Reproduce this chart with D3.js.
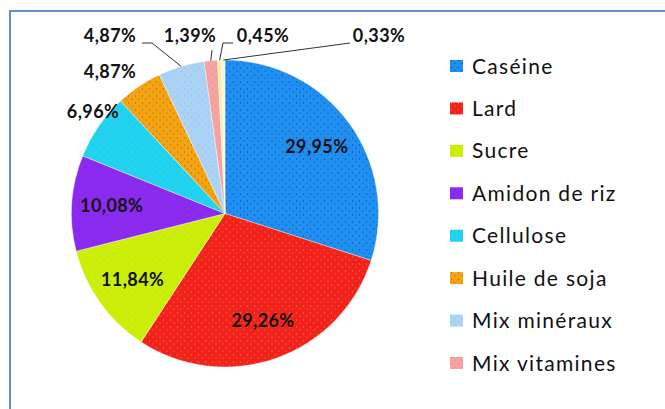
<!DOCTYPE html>
<html>
<head>
<meta charset="utf-8">
<script src="https://cdn.jsdelivr.net/npm/d3@7"></script>
<style>
  body { margin: 0; background: #fff; }
  svg { display: block; }
</style>
</head>
<body>
<svg id="chart" width="665" height="409"></svg>
<script>
// data
var categories = ["Caséine", "Lard", "Sucre", "Amidon de riz", "Cellulose", "Huile de soja", "Mix minéraux", "Mix vitamines", null, null];
var values = [29.95, 29.26, 11.84, 10.08, 6.96, 4.87, 4.87, 1.39, 0.45, 0.33];
var valueLabels = ["29,95%", "29,26%", "11,84%", "10,08%", "6,96%", "4,87%", "4,87%", "1,39%", "0,45%", "0,33%"];

var colors = ["#1f8ff0", "#f0221b", "#ccef0a", "#8b2bef", "#22d3f0", "#f4a312", "#a8d4f6", "#f6a3a2", "#f8f0a6", "#f3f3e6"];
var dotColors = ["#0a2a9a", "#ff9a40", "#b8dc00", "#7a20d8", "#14b8d8", "#8a4a10", "#e08ac8", "#e07a90", "#e8dc80", "#ddd"];

var svg = d3.select("#chart");
var cx = 225, cy = 213.5, radius = 153.5;

// frame (only top and left edges are visible)
svg.append("rect")
	.attr("x", 10).attr("y", 11)
	.attr("width", 700).attr("height", 500)
	.attr("fill", "none")
	.attr("stroke", "#5b93d3")
	.attr("stroke-width", 2);

// dotted textures like the old office fills
var defs = svg.append("defs");
colors.forEach(function(c, i){
	var p = defs.append("pattern")
		.attr("id", "tex" + i)
		.attr("width", 7).attr("height", 7)
		.attr("patternUnits", "userSpaceOnUse");
	p.append("rect").attr("width", 7).attr("height", 7).attr("fill", c);
	p.append("circle").attr("cx", 1.5).attr("cy", 1.5).attr("r", 0.6).attr("fill", dotColors[i]);
	p.append("circle").attr("cx", 5).attr("cy", 4.5).attr("r", 0.5).attr("fill", dotColors[i]);
});

var pie = d3.pie().sort(null).value(function(d){ return d; });
var arcs = pie(values);
var arc = d3.arc().innerRadius(0).outerRadius(radius);

var g = svg.append("g").attr("transform", "translate(" + cx + "," + cy + ")");

g.selectAll("path.slice")
	.data(arcs)
	.enter().append("path")
		.attr("class", "slice")
		.attr("d", arc)
		.attr("fill", function(d, i){ return "url(#tex" + i + ")"; })
		.attr("stroke", "#fff")
		.attr("stroke-width", 0.4);

// label layout: inside ones sit on a ring, the rest are placed around the pie
var insideR = 0.74;
var labelLayout = [
	{inside: true},
	{inside: true},
	{inside: true},
	{inside: true},
	{x: -132, y: -101.5},
	{x: -115, y: -141.5},
	{x: -115, y: -177.5, lead: [[-73, -170.5], [-83, -170.5]]},
	{x: -35, y: -177.5, lead: [[-13, -163.5]]},
	{x: 38, y: -177.5, lead: [[-2, -170.5], [8, -170.5]]},
	{x: 154, y: -177.5, lead: [[125, -170.5]]}
];

var edgeArc = d3.arc().innerRadius(radius).outerRadius(radius);
var ringArc = d3.arc().innerRadius(radius * insideR).outerRadius(radius * insideR);

// leader lines
g.selectAll("path.lead")
	.data(arcs.filter(function(d, i){ return labelLayout[i].lead; }))
	.enter().append("path")
		.attr("class", "lead")
		.attr("d", function(d){
			var pts = [edgeArc.centroid(d)].concat(labelLayout[d.index].lead);
			return d3.line()(pts);
		})
		.attr("fill", "none")
		.attr("stroke", "#333")
		.attr("stroke-width", 1);

g.selectAll("text.val")
	.data(arcs)
	.enter().append("text")
		.attr("class", "val")
		.attr("transform", function(d, i){
			var L = labelLayout[i];
			var p = L.inside ? ringArc.centroid(d) : [L.x, L.y];
			return "translate(" + p[0] + "," + p[1] + ")";
		})
		.attr("text-anchor", "middle")
		.attr("dy", "0.36em")
		.attr("font-family", "Lato, 'Open Sans', sans-serif")
		.attr("font-weight", "bold")
		.attr("font-size", "18px")
		.attr("letter-spacing", "0.4px")
		.attr("fill", "#111")
		.text(function(d, i){ return valueLabels[i]; });

// legend
var legendItems = categories.map(function(c, i){ return {name: c, i: i}; })
	.filter(function(d){ return d.name; });
var legY = d3.scalePoint()
	.domain(legendItems.map(function(d){ return d.name; }))
	.range([66, 363]);

var leg = svg.append("g").selectAll("g")
	.data(legendItems)
	.enter().append("g")
		.attr("transform", function(d){ return "translate(450," + legY(d.name) + ")"; });
leg.append("rect")
	.attr("x", 0).attr("y", -6)
	.attr("width", 13).attr("height", 12)
	.attr("fill", function(d){ return "url(#tex" + d.i + ")"; });
leg.append("text")
	.attr("x", 22)
	.attr("dy", "0.36em")
	.attr("font-family", "Lato, 'Open Sans', sans-serif")
	.attr("font-size", "21px")
	.attr("letter-spacing", "1.3px")
	.attr("fill", "#111")
	.text(function(d){ return d.name; });
</script>
</body>
</html>
